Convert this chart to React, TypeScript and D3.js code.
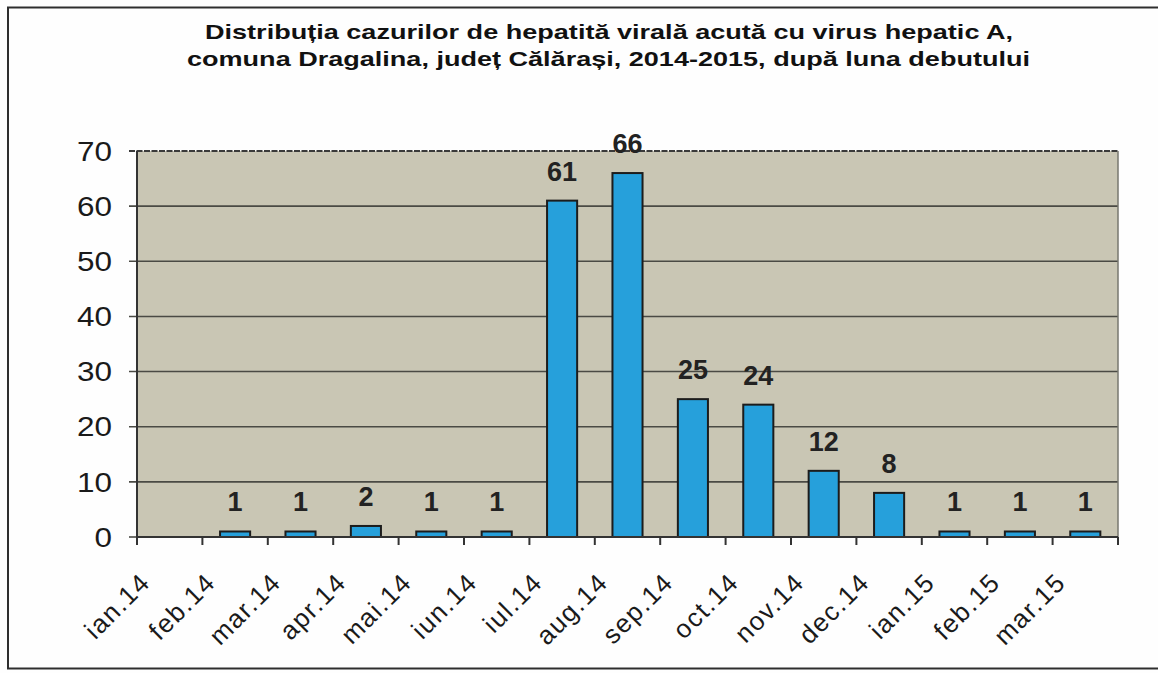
import React from "react";
import * as d3 from "d3";

const titleLines = [
  "Distribuția cazurilor  de hepatită virală acută cu virus hepatic A,",
  "comuna Dragalina, județ Călărași, 2014-2015, după luna debutului",
];
const months = [
  "ian.14", "feb.14", "mar.14", "apr.14", "mai.14", "iun.14", "iul.14",
  "aug.14", "sep.14", "oct.14", "nov.14", "dec.14", "ian.15", "feb.15", "mar.15",
];
const cases = [0, 1, 1, 2, 1, 1, 61, 66, 25, 24, 12, 8, 1, 1, 1];
const yTicks = [0, 10, 20, 30, 40, 50, 60, 70];

const W = 1158;
const H = 673;
const plot = { left: 137, right: 1118, top: 151, bottom: 537 };

export default function App() {
  const x = d3
    .scaleBand<string>()
    .domain(months)
    .range([plot.left, plot.right])
    .paddingInner(0.54)
    .paddingOuter(0.27);
  const step = x.step();
  const y = d3.scaleLinear().domain([0, 70]).range([plot.bottom, plot.top]);
  const font = "Arial, 'Liberation Sans', Helvetica, sans-serif";

  return (
    <svg
      width={W}
      height={H}
      style={{ position: "absolute", left: 0, top: 0, background: "#fff" }}
      fontFamily={font}
    >
      <rect x={0} y={0} width={W} height={H} fill="#fefefe" />
      {/* outer frame */}
      <rect
        x={8}
        y={7.5}
        width={1200}
        height={661}
        fill="none"
        stroke="#2e2e2e"
        strokeWidth={2}
      />
      {/* title */}
      {titleLines.map((t, i) => (
        <text
          key={i}
          x={i === 0 ? 205 : 187}
          y={i === 0 ? 39 : 66}
          fontSize={21}
          fontWeight="bold"
          fill="#111"
          textLength={i === 0 ? 808 : 843}
          lengthAdjust="spacingAndGlyphs"
        >
          {t}
        </text>
      ))}
      {/* plot background */}
      <rect
        x={plot.left}
        y={plot.top}
        width={plot.right - plot.left}
        height={plot.bottom - plot.top}
        fill="#c9c6b4"
      />
      {/* gridlines + y ticks */}
      {yTicks.map((v) => (
        <g key={v}>
          <line
            x1={plot.left - 8}
            x2={v === 0 ? plot.left : plot.right}
            y1={y(v)}
            y2={y(v)}
            stroke={v === 70 ? "#3a3a3a" : "#4a4a44"}
            strokeWidth={v === 70 ? 2 : 1.6}
            strokeDasharray={v === 70 ? "6 1.5" : undefined}
          />
          <text
            x={112}
            y={y(v)}
            dy="0.36em"
            textAnchor="end"
            fontSize={27}
            fill="#1a1a1a"
            textLength={String(v).length * 17.5}
            lengthAdjust="spacingAndGlyphs"
          >
            {v}
          </text>
        </g>
      ))}
      {/* right border */}
      <line
        x1={plot.right}
        x2={plot.right}
        y1={plot.top}
        y2={plot.bottom}
        stroke="#77776f"
        strokeWidth={1.5}
      />
      {/* bars */}
      {months.map((m, i) =>
        cases[i] > 0 ? (
          <rect
            key={m}
            x={x(m)!}
            y={y(cases[i])}
            width={x.bandwidth()}
            height={plot.bottom - y(cases[i])}
            fill="#26a0db"
            stroke="#1c1c1c"
            strokeWidth={2}
          />
        ) : null
      )}
      {/* axes lines */}
      <line
        x1={plot.left}
        x2={plot.right}
        y1={plot.bottom}
        y2={plot.bottom}
        stroke="#333"
        strokeWidth={2}
      />
      <line
        x1={plot.left}
        x2={plot.left}
        y1={plot.top}
        y2={plot.bottom + 8}
        stroke="#333"
        strokeWidth={2}
      />
      {/* x ticks at category boundaries */}
      {months.map((m, i) => {
        const tx = plot.left + step * (i + 1);
        return (
          <line
            key={m + "t"}
            x1={tx}
            x2={tx}
            y1={plot.bottom}
            y2={plot.bottom + 8}
            stroke="#333"
            strokeWidth={2}
          />
        );
      })}
      {/* data labels */}
      {months.map((m, i) =>
        cases[i] > 0 ? (
          <text
            key={m + "l"}
            x={x(m)! + x.bandwidth() / 2}
            y={y(cases[i]) - 20}
            textAnchor="middle"
            fontSize={27}
            fontWeight="bold"
            fill="#222"
          >
            {cases[i]}
          </text>
        ) : null
      )}
      {/* x labels */}
      {months.map((m) => {
        const cx = x(m)! + x.bandwidth() / 2 - 18;
        const cy = plot.bottom + 47;
        return (
          <text
            key={m + "x"}
            x={cx}
            y={cy}
            textAnchor="end"
            fontSize={26}
            letterSpacing={1.5}
            fill="#1a1a1a"
            transform={`rotate(-45, ${cx}, ${cy})`}
          >
            {m}
          </text>
        );
      })}
    </svg>
  );
}
